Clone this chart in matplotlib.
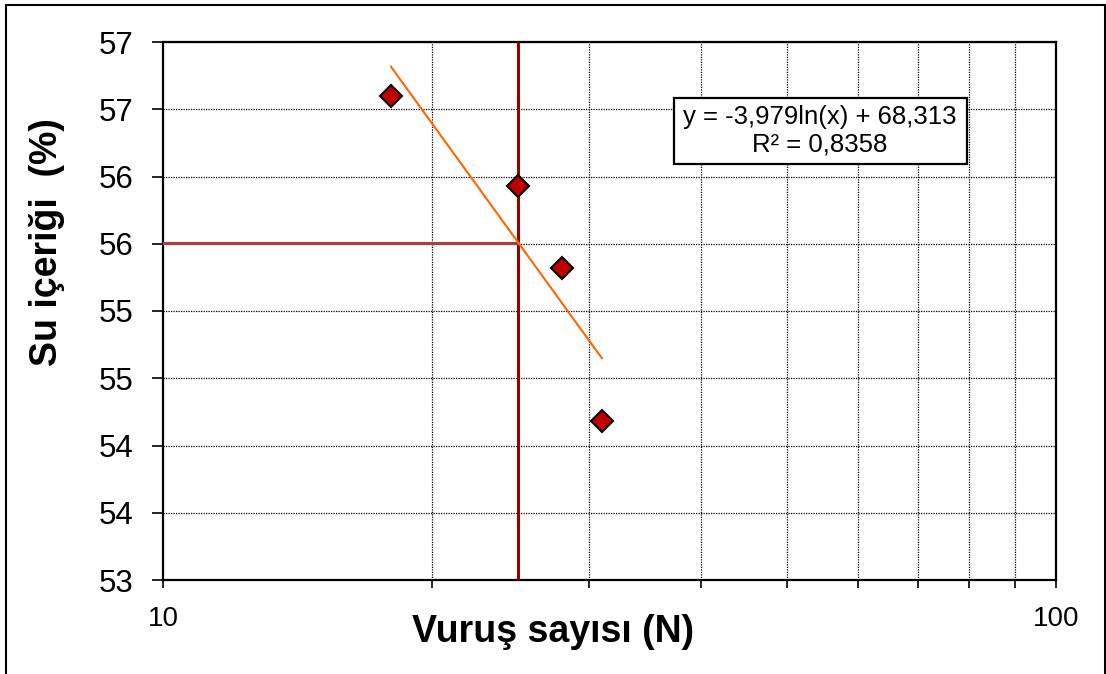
import numpy as np
import matplotlib
matplotlib.use("Agg")
import matplotlib.pyplot as plt
from matplotlib.patches import Rectangle
from matplotlib.ticker import LogLocator, NullFormatter

plt.rcParams["font.family"] = ["Liberation Sans", "DejaVu Sans"]

# Data
blows = [18, 25, 28, 31]
water = [56.60, 55.93, 55.32, 54.18]
liquid_limit_n = 25
y_ticks = [53, 53.5, 54, 54.5, 55, 55.5, 56, 56.5, 57]
y_labels = ["53", "54", "54", "55", "55", "56", "56", "57", "57"]
x_ticks = [10, 100]
x_labels = ["10", "100"]
eq_text = "y = -3,979ln(x) + 68,313\nR² = 0,8358"

# Logarithmic trendline fitted to the points
slope, intercept = np.polyfit(np.log(blows), water, 1)
trend_x = np.array([min(blows), max(blows)])
trend_y = slope * np.log(trend_x) + intercept
w_ll = slope * np.log(liquid_limit_n) + intercept

W, H = 1106, 674
fig = plt.figure(figsize=(W / 100, H / 100), dpi=100)
ax = fig.add_axes([163 / W, 1 - 580 / H, 893 / W, 538 / H])

ax.set_xscale("log")
ax.set_xlim(10, 100)
ax.set_ylim(53, 57)

# reference lines at N = 25
ax.axvline(liquid_limit_n, color="#990000", lw=2.2, zorder=3)
ax.plot([10, liquid_limit_n], [w_ll, w_ll], color="#B33B3B", lw=2.2, zorder=3)

ax.plot(trend_x, trend_y, color="#FF6600", lw=1.5, zorder=4)
ax.plot(blows, water, linestyle="none", marker="D", markersize=11,
        markerfacecolor="#C00000", markeredgecolor="black", markeredgewidth=1.5,
        zorder=5)

ax.set_yticks(y_ticks, labels=y_labels)
ax.set_xticks(x_ticks, labels=x_labels)
ax.xaxis.set_minor_locator(LogLocator(base=10, subs=np.arange(2, 10)))
ax.xaxis.set_minor_formatter(NullFormatter())

ax.grid(axis="y", which="major", color="black", linestyle=(0, (1, 1)), lw=0.9)
ax.grid(axis="x", which="minor", color="black", linestyle=(0, (1, 1)), lw=0.9)
ax.set_axisbelow(True)

ax.tick_params(axis="y", which="major", direction="out", length=8, width=1.2,
               labelsize=22.5, pad=13)
ax.tick_params(axis="x", which="both", direction="out", length=6, width=1.2,
               labelsize=20, pad=13)
for s in ax.spines.values():
    s.set_linewidth(1.6)

# equation box
ax.add_patch(Rectangle((0.5722, 0.7732), 0.3281, 0.1227, transform=ax.transAxes,
                       facecolor="white", edgecolor="black", lw=1.6, zorder=6))
ax.text(0.7357, 0.8346, eq_text, transform=ax.transAxes, ha="center", va="center",
        fontsize=18.5, linespacing=1.2, zorder=7)

fig.text(553.5 / W, 1 - 642 / H, "Vuruş sayısı (N)", ha="center", va="baseline",
         fontsize=27, fontweight="bold")
fig.text(47 / W, 1 - 242 / H, "Su içeriği  (%)", ha="center", va="center",
         rotation=90, fontsize=27, fontweight="bold")

# outer chart border
fig.add_artist(Rectangle((5.5 / W, -0.1), 1099 / W, 1.1 - 5.5 / H,
                         transform=fig.transFigure, fill=False,
                         edgecolor="black", lw=1.5))

fig.savefig("out.png", dpi=100)
